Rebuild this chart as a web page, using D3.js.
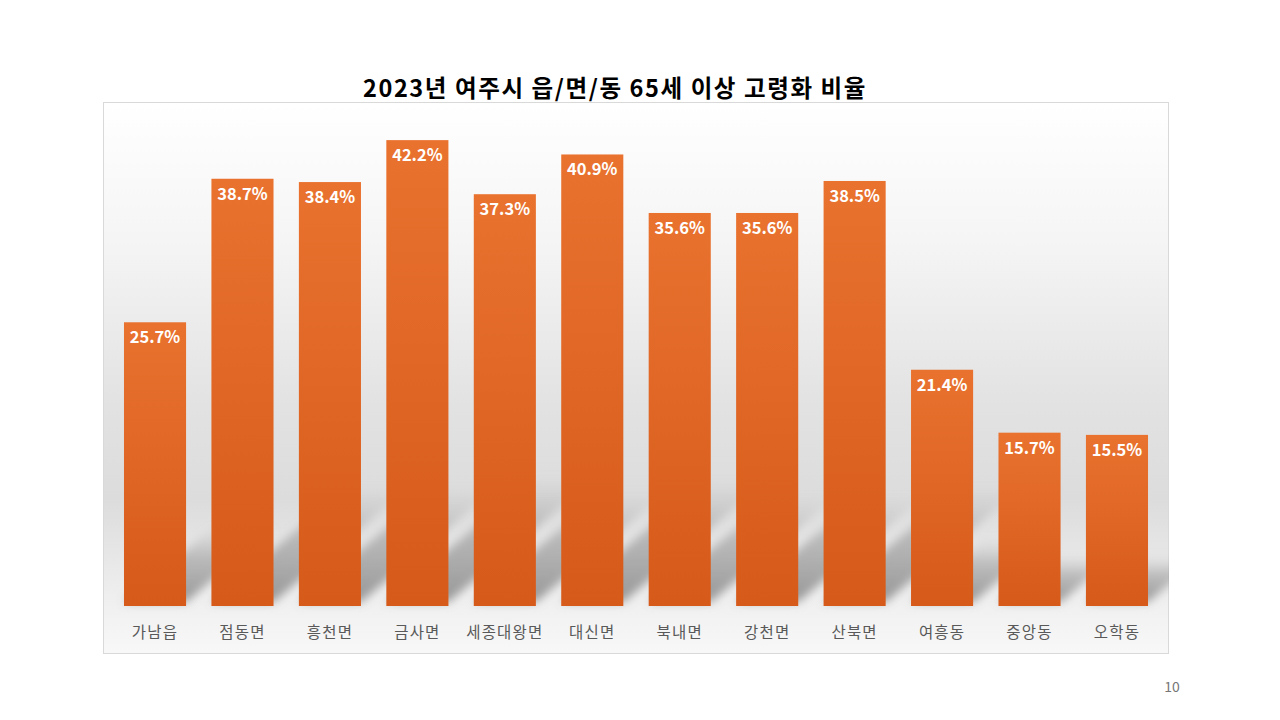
<!DOCTYPE html>
<html><head><meta charset="utf-8">
<script src="https://cdn.jsdelivr.net/npm/d3@7/dist/d3.min.js"></script>
<style>body{margin:0;background:#fff;}svg{display:block;}</style>
</head><body>
<svg id="c" width="1280" height="720"></svg>
<script>
const categories = ["가남읍","점동면","흥천면","금사면","세종대왕면","대신면","북내면","강천면","산북면","여흥동","중앙동","오학동"];
const values = [25.7, 38.7, 38.4, 42.2, 37.3, 40.9, 35.6, 35.6, 38.5, 21.4, 15.7, 15.5];
const titleText = "2023년 여주시 읍/면/동 65세 이상 고령화 비율";
const pageNumber = "10";

const svg = d3.select("#c");
const font = "'Noto Sans CJK KR','Noto Sans',sans-serif";
const frame = {x:103, y:102, w:1066, h:552};

const defs = svg.append("defs");
const bg = defs.append("linearGradient").attr("id","bg").attr("x1",0).attr("y1",0).attr("x2",0).attr("y2",1);
[[0,"#ffffff"],[0.25,"#f5f5f5"],[0.55,"#e2e2e2"],[0.72,"#dcdcdc"],[0.9,"#efefef"],[1,"#f8f8f8"]].forEach(s=>bg.append("stop").attr("offset",s[0]).attr("stop-color",s[1]));
const bar = defs.append("linearGradient").attr("id","bar").attr("x1",0).attr("y1",0).attr("x2",0).attr("y2",1);
bar.append("stop").attr("offset",0).attr("stop-color","#e9722f");
bar.append("stop").attr("offset",1).attr("stop-color","#d65a1a");
const sh = defs.append("linearGradient").attr("id","sh").attr("x1",0).attr("y1",1).attr("x2",0).attr("y2",0);
sh.append("stop").attr("offset",0).attr("stop-color","#808080").attr("stop-opacity",0.8);
sh.append("stop").attr("offset",0.6).attr("stop-color","#909090").attr("stop-opacity",0.5);
sh.append("stop").attr("offset",1).attr("stop-color","#b0b0b0").attr("stop-opacity",0);
defs.append("filter").attr("id","blur").attr("x","-50%").attr("y","-50%").attr("width","200%").attr("height","200%")
  .append("feGaussianBlur").attr("stdDeviation",5);
defs.append("clipPath").attr("id","fc").append("rect").attr("x",frame.x).attr("y",frame.y).attr("width",frame.w).attr("height",frame.h);

svg.append("rect").attr("x",frame.x+0.5).attr("y",frame.y+0.5).attr("width",frame.w-1).attr("height",frame.h-1)
  .attr("fill","url(#bg)").attr("stroke","#d9d9d9").attr("stroke-width",1);

const x = d3.scaleBand().domain(categories).range([111.3, 1160.7]).paddingInner(0.29).paddingOuter(0.145);
const y = d3.scaleLinear().domain([0,45]).range([606, 109.2]);

// shadows
const gS = svg.append("g").attr("clip-path","url(#fc)").append("g").attr("filter","url(#blur)");
gS.selectAll("path").data(categories).join("path")
  .attr("d",(c,i)=>{
    const h = y(0)-y(values[i]);
    const rise = h*0.27, dx = h*0.32;
    const x0 = x(c), x1 = x(c)+x.bandwidth(), b = y(0)-4;
    return `M${x0},${b}L${x1},${b}L${x1+dx},${b-rise}L${x0+dx},${b-rise}Z`;
  })
  .attr("fill","url(#sh)");

svg.append("g").selectAll("rect").data(categories).join("rect")
  .attr("x",c=>x(c)).attr("width",x.bandwidth())
  .attr("y",(c,i)=>y(values[i])).attr("height",(c,i)=>y(0)-y(values[i]))
  .attr("fill","url(#bar)");

svg.append("g").selectAll("text").data(categories).join("text")
  .attr("x",c=>x(c)+x.bandwidth()/2).attr("y",(c,i)=>y(values[i])+21)
  .attr("text-anchor","middle").attr("font-family",font).attr("font-weight","bold")
  .attr("font-size",16.5).attr("fill","#ffffff")
  .text((c,i)=>values[i].toFixed(1)+"%");

const xa = svg.append("g").attr("transform",`translate(0,${y(0)})`)
  .call(d3.axisBottom(x).tickSize(0).tickPadding(0));
xa.select(".domain").remove();
xa.selectAll("text").attr("font-family",font).attr("font-size",15.5).attr("fill","#595959")
  .attr("letter-spacing",1.2).attr("dy",0).attr("y",32);

svg.append("text").attr("x",615).attr("y",97).attr("text-anchor","middle")
  .attr("font-family",font).attr("font-weight","bold").attr("font-size",23.5).attr("fill","#000")
  .attr("letter-spacing",1.6)
  .text(titleText);

svg.append("text").attr("x",1172).attr("y",692).attr("text-anchor","middle")
  .attr("font-family",font).attr("font-size",14).attr("fill","#767676").text(pageNumber);
</script>
</body></html>
